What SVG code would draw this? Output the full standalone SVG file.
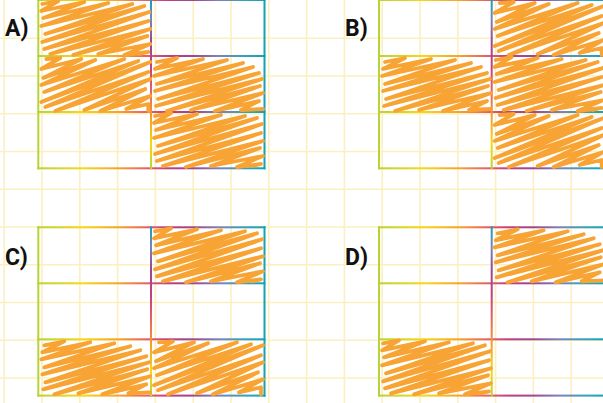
<svg xmlns="http://www.w3.org/2000/svg" xmlns:xlink="http://www.w3.org/1999/xlink" width="603" height="403" viewBox="0 0 603 403">
<style>
.grid{stroke:#fcefc0;stroke-width:1.6;fill:none}
.lbl{font-family:Roboto,"Liberation Sans",sans-serif;font-weight:bold;font-size:23px;fill:#111}
.scr{fill:none;stroke:#f7a435;stroke-width:3.8;stroke-linecap:round;stroke-linejoin:round}
</style>
<defs>
<linearGradient id="gh" x1="0" y1="0" x2="1" y2="0">
<stop offset="0" stop-color="#b7d437"/>
<stop offset="0.2" stop-color="#f6d812"/>
<stop offset="0.36" stop-color="#f4a22c"/>
<stop offset="0.47" stop-color="#eb6362"/>
<stop offset="0.57" stop-color="#c1407f"/>
<stop offset="0.68" stop-color="#9e4690"/>
<stop offset="0.8" stop-color="#7a84bb"/>
<stop offset="0.92" stop-color="#2ba5bc"/>
<stop offset="1" stop-color="#14a1b3"/>
</linearGradient>
<linearGradient id="gv" x1="0" y1="1" x2="0" y2="0">
<stop offset="0" stop-color="#b7d437"/>
<stop offset="0.15" stop-color="#f6d812"/>
<stop offset="0.3" stop-color="#f4a22c"/>
<stop offset="0.45" stop-color="#eb6362"/>
<stop offset="0.6" stop-color="#c1407f"/>
<stop offset="0.75" stop-color="#9e4690"/>
<stop offset="0.88" stop-color="#7a84bb"/>
<stop offset="1" stop-color="#14a1b3"/>
</linearGradient>
<g id="frame">
<rect x="-1" y="-1" width="228.2" height="2" fill="url(#gh)"/>
<rect x="-1" y="55" width="228.2" height="2" fill="url(#gh)"/>
<rect x="-1" y="111" width="228.2" height="2" fill="url(#gh)"/>
<rect x="-1" y="167.3" width="228.2" height="2" fill="url(#gh)"/>
<rect x="-1" y="-1" width="2" height="170.3" fill="#b7d437"/>
<rect x="111.7" y="-1" width="2" height="170.3" fill="url(#gv)"/>
<rect x="225.2" y="-1" width="2" height="170.3" fill="#17a1b4"/>
</g>
<path id="s1" class="scr" d="M2,3 L18,0 L1,10 L44,1 L3,17 L68,2 L1,25 L92,3 L5,33 L104,5 L2,41 L109,11 L4,48 L108,20 L10,53 L110,28 L33,54 L107,35 L58,53 L110,43 L84,54 L108,51 L99,53"/>
<path id="s2" class="scr" d="M6,2 L20,1 L1,12 L41,2 L3,21 L55,3 L1,28 L84,2 L4,35 L98,4 L1,45 L110,5 L5,50 L108,15 L15,54 L110,22 L44,53 L105,32 L60,54 L110,39 L86,52 L108,47 L108,54"/>
<path id="s3" class="scr" d="M4,5 L24,1 L2,12 L50,2 L1,19 L74,3 L4,27 L90,6 L2,34 L100,10 L5,42 L106,16 L3,49 L109,22 L14,54 L107,29 L38,53 L110,36 L62,54 L106,44 L88,53 L110,52"/>
</defs>
<rect width="603" height="403" fill="#ffffff"/>
<path class="grid" d="M4.2,0V403M42,0V403M79.8,0V403M117.6,0V403M155.4,0V403M193.2,0V403M231,0V403M268.8,0V403M306.6,0V403M344.4,0V403M382.2,0V403M420,0V403M457.8,0V403M495.6,0V403M533.4,0V403M571.2,0V403M0,38.25H603M0,76H603M0,113.75H603M0,151.5H603M0,189.25H603M0,227H603M0,264.75H603M0,302.5H603M0,340.25H603M0,378H603"/>
<g id="option-a">
<use xlink:href="#frame" href="#frame" transform="translate(38.3,0)"/>
<use xlink:href="#s1" href="#s1" transform="translate(40.3,1)"/>
<use xlink:href="#s2" href="#s2" transform="translate(40.3,57)"/>
<use xlink:href="#s3" href="#s3" transform="translate(153,57)"/>
<use xlink:href="#s1" href="#s1" transform="translate(153,113)"/>
<text class="lbl" x="5" y="36">A)</text>
</g>
<g id="option-b">
<use xlink:href="#frame" href="#frame" transform="translate(379,0)"/>
<use xlink:href="#s2" href="#s2" transform="translate(493.7,1)"/>
<use xlink:href="#s3" href="#s3" transform="translate(381,57)"/>
<use xlink:href="#s1" href="#s1" transform="translate(493.7,57)"/>
<use xlink:href="#s2" href="#s2" transform="translate(493.7,113)"/>
<text class="lbl" x="345" y="36">B)</text>
</g>
<g id="option-c">
<use xlink:href="#frame" href="#frame" transform="translate(38.3,227.3)"/>
<use xlink:href="#s1" href="#s1" transform="translate(153,228.3)"/>
<use xlink:href="#s3" href="#s3" transform="translate(40.3,340.3)"/>
<use xlink:href="#s2" href="#s2" transform="translate(153,340.3)"/>
<text class="lbl" x="5" y="265">C)</text>
</g>
<g id="option-d">
<use xlink:href="#frame" href="#frame" transform="translate(379,227.3)"/>
<use xlink:href="#s3" href="#s3" transform="translate(493.7,228.3)"/>
<use xlink:href="#s1" href="#s1" transform="translate(381,340.3)"/>
<text class="lbl" x="345" y="265">D)</text>
</g>
</svg>
